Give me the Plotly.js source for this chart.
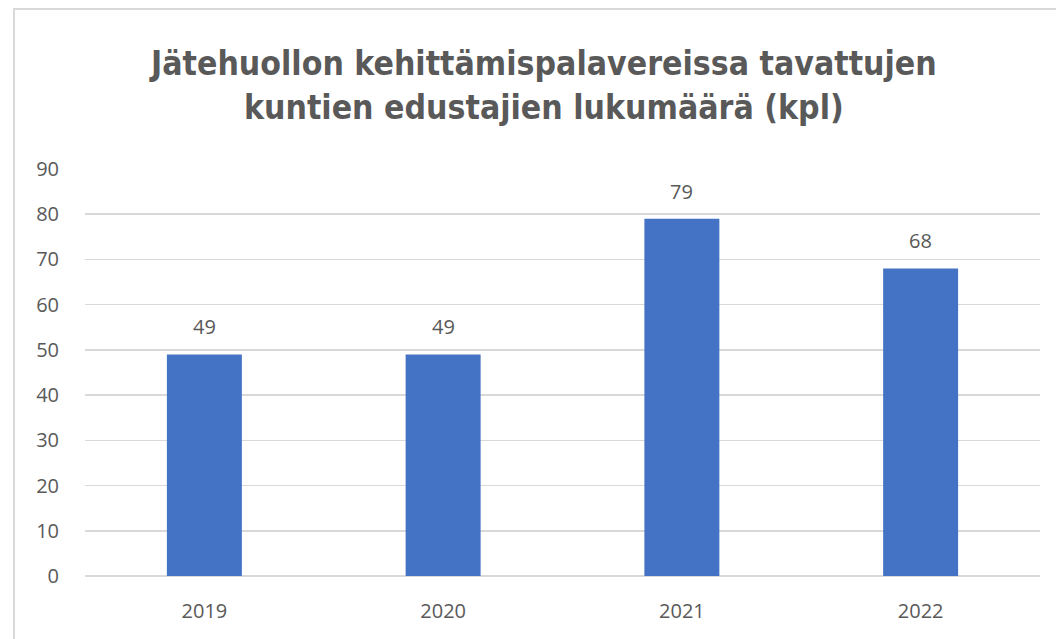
<!DOCTYPE html>
<html><head><meta charset="utf-8">
<script src="https://cdn.plot.ly/plotly-3.0.1.min.js"></script>
<style>html,body{margin:0;padding:0;background:#fff;}#frame{position:absolute;left:13px;top:8px;width:1100px;height:700px;border-left:2px solid #d9d9d9;border-top:2px solid #d9d9d9;pointer-events:none;}</style>
</head><body>
<div id="chart" style="width:1056px;height:639px;"></div>
<div id="frame"></div>
<script>
const years = ["2019", "2020", "2021", "2022"];
const counts = [49, 49, 79, 68];
const yTicks = [0, 10, 20, 30, 40, 50, 60, 70, 80, 90];
const titleText = "Jätehuollon kehittämispalavereissa tavattujen<br>kuntien edustajien lukumäärä (kpl)";

const textColor = "#595959";
const data = [{
  type: "bar", x: years, y: counts,
  marker: {color: "#4472C4"},
  hoverinfo: "none"
}];
const annotations = years.map((yr, i) => ({
  x: i, y: counts[i], xref: "x", yref: "y", text: String(counts[i]),
  showarrow: false, yanchor: "bottom", yshift: 12,
  font: {family: "Open Sans, sans-serif", size: 20, color: textColor}
}));
annotations.push({
  xref: "paper", yref: "paper", x: 0.5, y: 1, xshift: -20, yshift: 84, xanchor: "center", yanchor: "middle",
  text: titleText, showarrow: false,
  font: {family: "DejaVu Sans Condensed, DejaVu Sans, sans-serif", size: 33.5, color: textColor, weight: "bold"}
});
const layout = {
  width: 1056, height: 639,
  margin: {l: 85, r: 16, t: 169, b: 63},
  paper_bgcolor: "#fff", plot_bgcolor: "#fff",
  bargap: 0.686,
  showlegend: false,
  xaxis: {type: "category", range: [-0.5, 3.5], showgrid: false, zeroline: false, showline: false,
    ticks: "outside", ticklen: 17, tickcolor: "rgba(0,0,0,0)",
    tickfont: {family: "Open Sans, sans-serif", size: 20, color: textColor}},
  yaxis: {range: [0, 90], tickvals: yTicks, ticktext: yTicks.map(String), showgrid: true, gridcolor: "#d9d9d9", gridwidth: 1.5,
    zeroline: true, zerolinecolor: "#d9d9d9", zerolinewidth: 1.5, showline: false,
    ticks: "outside", ticklen: 21, tickcolor: "rgba(0,0,0,0)",
    tickfont: {family: "Open Sans, sans-serif", size: 20, color: textColor}},
  annotations: annotations
};
Plotly.newPlot("chart", data, layout, {displayModeBar: false, staticPlot: true});
</script>
</body></html>
